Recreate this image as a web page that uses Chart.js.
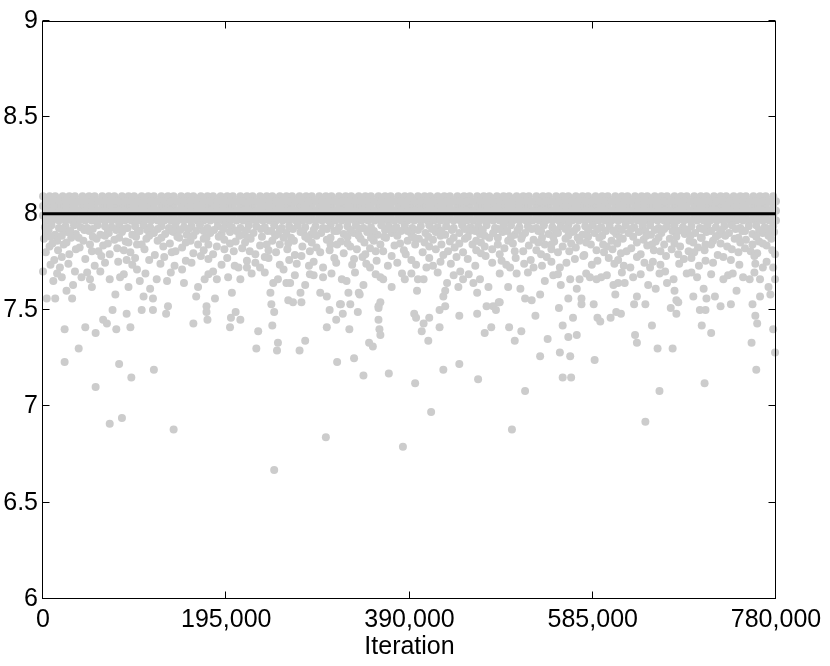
<!DOCTYPE html>
<html>
<head>
<meta charset="utf-8">
<script src="https://cdn.jsdelivr.net/npm/chart.js@4/dist/chart.umd.min.js"></script>
<style>
html,body{margin:0;padding:0;background:#fff;}
#c{display:block;}
</style>
</head>
<body>
<canvas id="c" width="830" height="666"></canvas>
<script>
// ---- DATA (iterations in thousands) ----
const xTickValues = [0, 195, 390, 585, 780];
const xTickLabels = ['0', '195,000', '390,000', '585,000', '780,000'];
const yTickLabels = ['6', '6.5', '7', '7.5', '8', '8.5', '9'];
const xAxisTitle = 'Iteration';
const targetValue = 8;
const targetRange = [0, 780];

// dense band: iterations sampled across the run, repeated at several value levels
const bandIterA = [0,7,13,21,28,34,42,49,55,63,70,76,84,91,97,105,112,118,126,133,139,147,154,160,168,175,181,189,196,202,210,217,223,231,238,244,252,259,265,273,280,286,294,301,307,315,322,328,336,343,349,357,364,370,378,385,391,399,406,412,420,427,433,441,448,454,462,469,475,483,490,496,504,511,517,525,532,538,546,553,559,567,574,580,588,595,601,609,616,622,630,637,643,651,658,664,672,679,685,693,700,706,714,721,727,735,742,748,756,763,769,777];
const bandIterB = [3,10,17,24,31,38,45,52,59,66,73,80,87,94,101,108,115,122,129,136,143,150,157,164,171,178,185,192,199,206,213,220,227,234,241,248,255,262,269,276,283,290,297,304,311,318,325,332,339,346,353,360,367,374,381,388,395,402,409,416,423,430,437,444,451,458,465,472,479,486,493,500,507,514,521,528,535,542,549,556,563,570,577,584,591,598,605,612,619,626,633,640,647,654,661,668,675,682,689,696,703,710,717,724,731,738,745,752,759,766,773,780];
const bandLevelsA = [8.09, 8.04, 7.99];
const bandLevelsB = [8.065, 8.015, 7.965];

// thinning zone just below the band
const nearBand = [
[2,7.93],[9,7.94],[17,7.925],[24,7.935],[33,7.94],[40,7.93],[47,7.925],[58,7.94],[66,7.935],[73,7.93],[81,7.94],[90,7.925],[98,7.935],[107,7.94],[114,7.93],[126,7.935],[134,7.925],[141,7.94],[150,7.93],[158,7.935],[167,7.94],[175,7.925],[186,7.935],[194,7.94],[201,7.93],[210,7.925],[219,7.94],[227,7.935],[236,7.93],[246,7.94],[254,7.925],[262,7.935],[271,7.94],[279,7.93],[290,7.935],[298,7.925],[306,7.94],[315,7.93],[324,7.935],[333,7.94],[341,7.925],[349,7.93],[360,7.94],[368,7.935],[376,7.93],[385,7.94],[393,7.925],[402,7.935],[411,7.94],[420,7.93],[429,7.935],[437,7.925],[446,7.94],[455,7.93],[463,7.935],[472,7.94],[481,7.925],[490,7.935],[498,7.94],[507,7.93],[516,7.935],[525,7.925],[533,7.94],[542,7.93],[551,7.935],[559,7.94],[568,7.925],[577,7.935],[585,7.94],[594,7.93],[603,7.935],[612,7.925],[620,7.94],[629,7.93],[638,7.935],[646,7.94],[655,7.925],[664,7.935],[672,7.94],[681,7.93],[690,7.935],[699,7.925],[707,7.94],[716,7.93],[725,7.935],[733,7.94],[742,7.925],[751,7.935],[759,7.94],[768,7.93],[777,7.935],
[4,7.90],[13,7.89],[26,7.905],[35,7.895],[49,7.91],[61,7.89],[70,7.90],[84,7.905],[95,7.89],[103,7.91],[118,7.90],[130,7.895],[139,7.905],[153,7.89],[163,7.91],[178,7.90],[190,7.895],[199,7.905],[214,7.89],[224,7.90],[239,7.91],[250,7.895],[259,7.90],[274,7.905],[285,7.89],[296,7.90],[310,7.91],[320,7.895],[331,7.90],[345,7.905],[356,7.89],[371,7.90],[381,7.91],[392,7.895],[407,7.90],[418,7.905],[428,7.89],[443,7.90],[454,7.91],[465,7.895],[479,7.90],[489,7.905],[502,7.89],[513,7.90],[527,7.91],[538,7.895],[548,7.90],[563,7.905],[574,7.89],[587,7.90],[599,7.91],[610,7.895],[623,7.90],[634,7.905],[647,7.89],[658,7.90],[670,7.91],[683,7.895],[694,7.90],[706,7.905],[719,7.89],[730,7.90],[744,7.91],[755,7.895],[766,7.90],[778,7.905],
[1,7.87],[15,7.86],[30,7.875],[43,7.86],[57,7.87],[76,7.865],[88,7.855],[110,7.87],[122,7.86],[145,7.875],[157,7.86],[171,7.87],[193,7.865],[205,7.855],[221,7.87],[244,7.86],[256,7.875],[267,7.86],[282,7.87],[302,7.865],[317,7.855],[338,7.87],[352,7.86],[365,7.875],[388,7.86],[400,7.87],[415,7.865],[433,7.855],[449,7.87],[461,7.86],[475,7.875],[495,7.86],[509,7.87],[522,7.865],[544,7.855],[556,7.87],[571,7.86],[592,7.875],[605,7.86],[617,7.87],[639,7.865],[652,7.855],[667,7.87],[688,7.86],[701,7.875],[713,7.86],[736,7.87],[748,7.865],[762,7.855],[775,7.87],
[7,7.83],[22,7.84],[39,7.825],[64,7.835],[79,7.82],[100,7.84],[128,7.83],[148,7.825],[165,7.84],[185,7.83],[212,7.82],[231,7.835],[252,7.84],[276,7.83],[291,7.825],[313,7.84],[327,7.83],[348,7.82],[374,7.835],[396,7.84],[411,7.83],[438,7.825],[457,7.84],[470,7.83],[491,7.82],[517,7.835],[534,7.84],[553,7.83],[567,7.825],[583,7.84],[600,7.83],[626,7.82],[643,7.835],[661,7.84],[678,7.83],[697,7.825],[711,7.84],[728,7.83],[747,7.82],[770,7.835],
[3,7.80],[28,7.79],[52,7.805],[71,7.79],[93,7.80],[119,7.785],[137,7.80],[160,7.795],[181,7.79],[203,7.805],[226,7.79],[248,7.80],[268,7.785],[295,7.80],[320,7.795],[343,7.79],[362,7.805],[386,7.79],[404,7.80],[426,7.785],[447,7.80],[466,7.795],[486,7.79],[511,7.805],[530,7.79],[548,7.80],[576,7.785],[597,7.80],[615,7.795],[636,7.79],[657,7.805],[676,7.79],[693,7.80],[718,7.785],[740,7.80],[760,7.795],[779,7.79],
[12,7.76],[45,7.765],[80,7.75],[113,7.76],[152,7.755],[176,7.765],[217,7.755],[262,7.76],[288,7.75],[331,7.765],[355,7.755],[392,7.76],[423,7.75],[452,7.765],[488,7.755],[519,7.76],[566,7.765],[590,7.755],[612,7.76],[649,7.75],[682,7.765],[705,7.755],[732,7.76],[770,7.75]
];

// more points filling the same zone between the levels above
const nearBandFill = [
[6,7.915],[20,7.92],[29,7.91],[44,7.915],[53,7.92],[69,7.91],[78,7.915],[86,7.92],[101,7.91],[111,7.915],[122,7.92],[137,7.91],[146,7.915],[155,7.92],[171,7.91],[182,7.915],[192,7.92],[206,7.91],[217,7.915],[232,7.92],[243,7.91],[252,7.915],[266,7.92],[277,7.91],[288,7.915],[302,7.92],[313,7.91],[327,7.915],[337,7.92],[352,7.91],[364,7.915],[374,7.92],[388,7.91],[399,7.915],[414,7.92],[424,7.91],[435,7.915],[449,7.92],[460,7.91],[468,7.915],[484,7.92],[494,7.91],[505,7.915],[520,7.92],[530,7.91],[545,7.915],[556,7.92],[565,7.91],[580,7.915],[591,7.92],[607,7.91],[616,7.915],[626,7.92],[641,7.91],[651,7.915],[661,7.92],[676,7.91],[686,7.915],[702,7.92],[711,7.91],[722,7.915],[737,7.92],[747,7.91],[762,7.915],[772,7.92],
[8,7.88],[20,7.885],[38,7.875],[53,7.88],[66,7.885],[81,7.875],[99,7.88],[113,7.885],[126,7.875],[143,7.88],[160,7.885],[174,7.875],[187,7.88],[209,7.885],[218,7.875],[233,7.88],[247,7.885],[264,7.875],[279,7.88],[291,7.885],[306,7.875],[324,7.88],[336,7.885],[349,7.875],[363,7.88],[377,7.885],[395,7.875],[410,7.88],[423,7.885],[437,7.875],[452,7.88],[470,7.885],[484,7.875],[498,7.88],[510,7.885],[531,7.875],[543,7.88],[559,7.885],[569,7.875],[580,7.88],[595,7.885],[614,7.875],[628,7.88],[642,7.885],[655,7.875],[674,7.88],[689,7.885],[700,7.875],[716,7.88],[726,7.885],[740,7.875],[759,7.88],[772,7.885],
[10,7.845],[25,7.85],[50,7.84],[69,7.845],[91,7.85],[105,7.84],[135,7.845],[152,7.85],[176,7.84],[199,7.845],[215,7.85],[238,7.84],[261,7.845],[286,7.85],[306,7.84],[324,7.845],[342,7.85],[359,7.84],[380,7.845],[406,7.85],[424,7.84],[443,7.845],[466,7.85],[484,7.84],[500,7.845],[527,7.85],[541,7.84],[562,7.845],[578,7.85],[596,7.84],[611,7.845],[632,7.85],[648,7.84],[672,7.845],[692,7.85],[705,7.84],[721,7.845],[742,7.85],[755,7.84],[766,7.845],
[16,7.81],[35,7.815],[59,7.805],[86,7.81],[108,7.815],[141,7.805],[171,7.81],[193,7.815],[220,7.805],[240,7.81],[260,7.815],[284,7.805],[305,7.81],[334,7.815],[354,7.805],[384,7.81],[418,7.815],[431,7.805],[461,7.81],[478,7.815],[502,7.805],[525,7.81],[541,7.815],[560,7.805],[589,7.81],[606,7.815],[621,7.805],[650,7.81],[669,7.815],[687,7.805],[704,7.81],[733,7.815],[753,7.805],[776,7.81],
[20,7.775],[62,7.78],[98,7.77],[129,7.775],[168,7.78],[196,7.77],[236,7.775],[275,7.78],[310,7.77],[340,7.775],[371,7.78],[411,7.77],[440,7.775],[471,7.78],[503,7.77],[536,7.775],[575,7.78],[602,7.77],[632,7.775],[663,7.78],[690,7.77],[724,7.775],[757,7.78]
];

// scattered points between about 7.5 and 7.77
const midScatter = [
[0,7.70],[11,7.65],[4,7.56],[13,7.56],[20,7.67],[18,7.72],[25,7.60],[31,7.56],[32,7.63],[34,7.70],[41,7.67],[50,7.66],[52,7.62],[61,7.70],[71,7.66],[77,7.58],[82,7.67],[89,7.76],[91,7.62],[100,7.71],[103,7.65],[107,7.57],[114,7.61],[121,7.66],[132,7.65],[117,7.56],[148,7.71],[150,7.64],[163,7.57],[165,7.62],[172,7.66],[181,7.70],[185,7.66],[183,7.56],[197,7.67],[201,7.59],[210,7.66],[208,7.72],[217,7.72],[231,7.72],[240,7.77],[245,7.64],[250,7.66],[242,7.59],[259,7.64],[261,7.55],
[256,7.71],[268,7.68],[263,7.64],[266,7.54],[275,7.54],[274,7.59],[279,7.63],[288,7.68],[298,7.67],[298,7.72],[295,7.59],[302,7.57],[318,7.66],[323,7.65],[325,7.59],[316,7.53],[336,7.59],[341,7.63],[337,7.58],[348,7.72],[359,7.67],[362,7.66],[357,7.52],[359,7.54],[371,7.62],[382,7.69],[385,7.66],[398,7.60],[399,7.66],[405,7.66],[408,7.72],[415,7.73],[426,7.57],[428,7.60],[430,7.64],[437,7.68],[444,7.70],[442,7.62],[447,7.66],[458,7.64],[462,7.59],[465,7.66],[474,7.62],[485,7.54],[479,7.52],[495,7.62],[508,7.61],[513,7.56],[504,7.69],[497,7.72],
[522,7.72],[529,7.58],[520,7.55],[534,7.65],[543,7.68],[541,7.75],[550,7.72],[551,7.63],[561,7.66],[559,7.56],[568,7.61],[573,7.56],[571,7.66],[582,7.67],[589,7.66],[594,7.67],[600,7.68],[609,7.58],[607,7.63],[612,7.64],[619,7.64],[625,7.72],[628,7.67],[632,7.57],[644,7.63],[652,7.61],[646,7.72],[662,7.70],[664,7.64],[671,7.66],[672,7.60],[674,7.55],[685,7.69],[692,7.57],[696,7.67],[703,7.61],[706,7.56],[715,7.57],[724,7.66],[729,7.68],[738,7.60],[745,7.67],[752,7.66],[763,7.66],[763,7.57],[772,7.62],[774,7.58],[779,7.66],[777,7.72],[766,7.72],
[8,7.735],[27,7.74],[55,7.73],[66,7.745],[95,7.735],[125,7.74],[140,7.73],[158,7.745],[190,7.735],[204,7.73],[226,7.745],[252,7.735],[270,7.74],[283,7.73],[312,7.745],[329,7.735],[344,7.74],[367,7.73],[377,7.745],[397,7.735],[434,7.74],[460,7.73],[478,7.745],[493,7.735],[512,7.74],[531,7.73],[557,7.745],[584,7.735],[608,7.74],[618,7.73],[640,7.745],[657,7.735],[677,7.74],[698,7.73],[713,7.745],[741,7.735],[758,7.74],
[15,7.69],[47,7.695],[86,7.685],[109,7.69],[136,7.695],[176,7.685],[222,7.69],[236,7.695],[284,7.685],[307,7.69],[332,7.695],[354,7.685],[392,7.69],[420,7.695],[453,7.685],[486,7.69],[516,7.695],[548,7.685],[578,7.69],[616,7.695],[636,7.685],[656,7.69],[690,7.695],[711,7.685],[734,7.69],[757,7.695]
];

// low outliers
const outliers = [
[23,7.40],[45,7.41],[56,7.38],[74,7.50],[64,7.45],[68,7.43],[78,7.40],[89,7.48],[93,7.41],[105,7.50],[117,7.50],[133,7.52],[131,7.48],[38,7.30],[23,7.23],[81,7.22],[94,7.15],[118,7.19],[56,7.10],[71,6.91],[84,6.94],[139,6.88],[160,7.43],[175,7.45],[174,7.52],[174,7.49],[199,7.41],[200,7.46],[205,7.49],[210,7.45],[229,7.39],[227,7.30],[244,7.42],[246,7.49],[243,7.53],[250,7.33],[249,7.29],[246,6.67],
[305,7.50],[312,7.45],[302,7.41],[317,7.53],[319,7.48],[327,7.53],[335,7.49],[326,7.40],[357,7.51],[357,7.45],[358,7.40],[359,7.37],[279,7.34],[273,7.29],[347,7.33],[351,7.31],[313,7.23],[331,7.25],[341,7.16],[368,7.17],[396,7.12],[395,7.48],[397,7.46],[405,7.43],[403,7.39],[411,7.46],[410,7.34],[422,7.41],[422,7.50],[428,7.52],[443,7.47],[462,7.48],[472,7.52],[482,7.50],[486,7.54],[470,7.38],[477,7.41],[496,7.41],[509,7.39],[502,7.34],[426,7.19],[443,7.22],[463,7.14],[513,7.08],[413,6.97],[301,6.84],[383,6.79],[499,6.88],
[524,7.47],[549,7.51],[553,7.42],[564,7.46],[559,7.36],[568,7.37],[537,7.35],[529,7.26],[550,7.28],[561,7.26],[553,7.15],[562,7.15],[586,7.53],[573,7.53],[590,7.46],[593,7.44],[604,7.46],[610,7.49],[615,7.48],[587,7.24],[629,7.53],[641,7.53],[630,7.37],[632,7.33],[648,7.42],[654,7.30],[670,7.30],[668,7.51],[674,7.48],[676,7.54],[656,7.08],[641,6.92],[699,7.50],[705,7.50],[701,7.42],[711,7.38],[721,7.52],[732,7.53],[704,7.12],[755,7.53],[758,7.47],[760,7.43],[754,7.33],[759,7.19],[777,7.40],[779,7.28]
];

// ---- build chart data from the arrays ----
const scatterPts = [];
for (const v of bandLevelsA) for (const it of bandIterA) scatterPts.push({x: it, y: v});
for (const v of bandLevelsB) for (const it of bandIterB) scatterPts.push({x: it, y: v});
for (const arr of [nearBand, nearBandFill, midScatter, outliers]) for (const p of arr) scatterPts.push({x: p[0], y: p[1]});
const targetLine = targetRange.map(x => ({x: x, y: targetValue}));

const FONT = "'Liberation Sans', Arial, Helvetica, sans-serif";

const frameTicks = {
  id: 'frameTicks',
  afterDatasetsDraw(chart) {
    const {ctx, chartArea: a, scales: {x, y}} = chart;
    const L = Math.round(a.left) - 0.5, R = Math.round(a.right) - 0.5;
    const T = Math.round(a.top) + 0.5, B = Math.round(a.bottom) - 0.5;
    const tl = 7;
    ctx.save();
    ctx.strokeStyle = '#000';
    ctx.lineWidth = 1;
    ctx.beginPath();
    x.ticks.forEach(t => {
      const px = Math.round(x.getPixelForValue(t.value)) - 0.5;
      ctx.moveTo(px, B); ctx.lineTo(px, B - tl);
      ctx.moveTo(px, T); ctx.lineTo(px, T + tl);
    });
    y.ticks.forEach(t => {
      const py = Math.round(y.getPixelForValue(t.value)) - 0.5;
      ctx.moveTo(L, py); ctx.lineTo(L + tl, py);
      ctx.moveTo(R, py); ctx.lineTo(R - tl, py);
    });
    ctx.stroke();
    ctx.strokeRect(L, T, R - L, B - T);
    ctx.restore();
  }
};

new Chart(document.getElementById('c'), {
  type: 'scatter',
  data: {
    datasets: [
      {
        type: 'line',
        data: targetLine,
        borderColor: '#000',
        borderWidth: 3,
        pointRadius: 0,
        fill: false,
        order: 0,
        clip: false
      },
      {
        data: scatterPts,
        backgroundColor: 'rgb(204,204,204)',
        borderWidth: 0,
        pointRadius: 4,
        pointHoverRadius: 4,
        order: 1,
        clip: false
      }
    ]
  },
  options: {
    responsive: false,
    animation: false,
    events: [],
    layout: {padding: {left: 0, top: 21, right: 54, bottom: 0}},
    plugins: {legend: {display: false}, tooltip: {enabled: false}},
    scales: {
      x: {
        type: 'linear',
        min: 0, max: 780,
        afterBuildTicks(s) { s.ticks = xTickValues.map(v => ({value: v})); },
        grid: {display: false, drawTicks: false},
        border: {display: false},
        ticks: {
          padding: 6, color: '#000', maxRotation: 0, autoSkip: false,
          font: {size: 25, family: FONT},
          callback: (v, i) => xTickLabels[i]
        },
        title: {display: true, text: xAxisTitle, color: '#000', font: {size: 25, family: FONT}, padding: {top: 0, bottom: 4}},
        afterFit(s) { s.height = 67; }
      },
      y: {
        min: 6, max: 9,
        grid: {display: false, drawTicks: false},
        border: {display: false},
        ticks: {
          stepSize: 0.5, padding: 5, color: '#000', autoSkip: false,
          font: {size: 25, family: FONT},
          callback: (v, i) => yTickLabels[i]
        },
        afterFit(s) { s.width = 43; }
      }
    }
  },
  plugins: [frameTicks]
});
</script>
</body>
</html>
